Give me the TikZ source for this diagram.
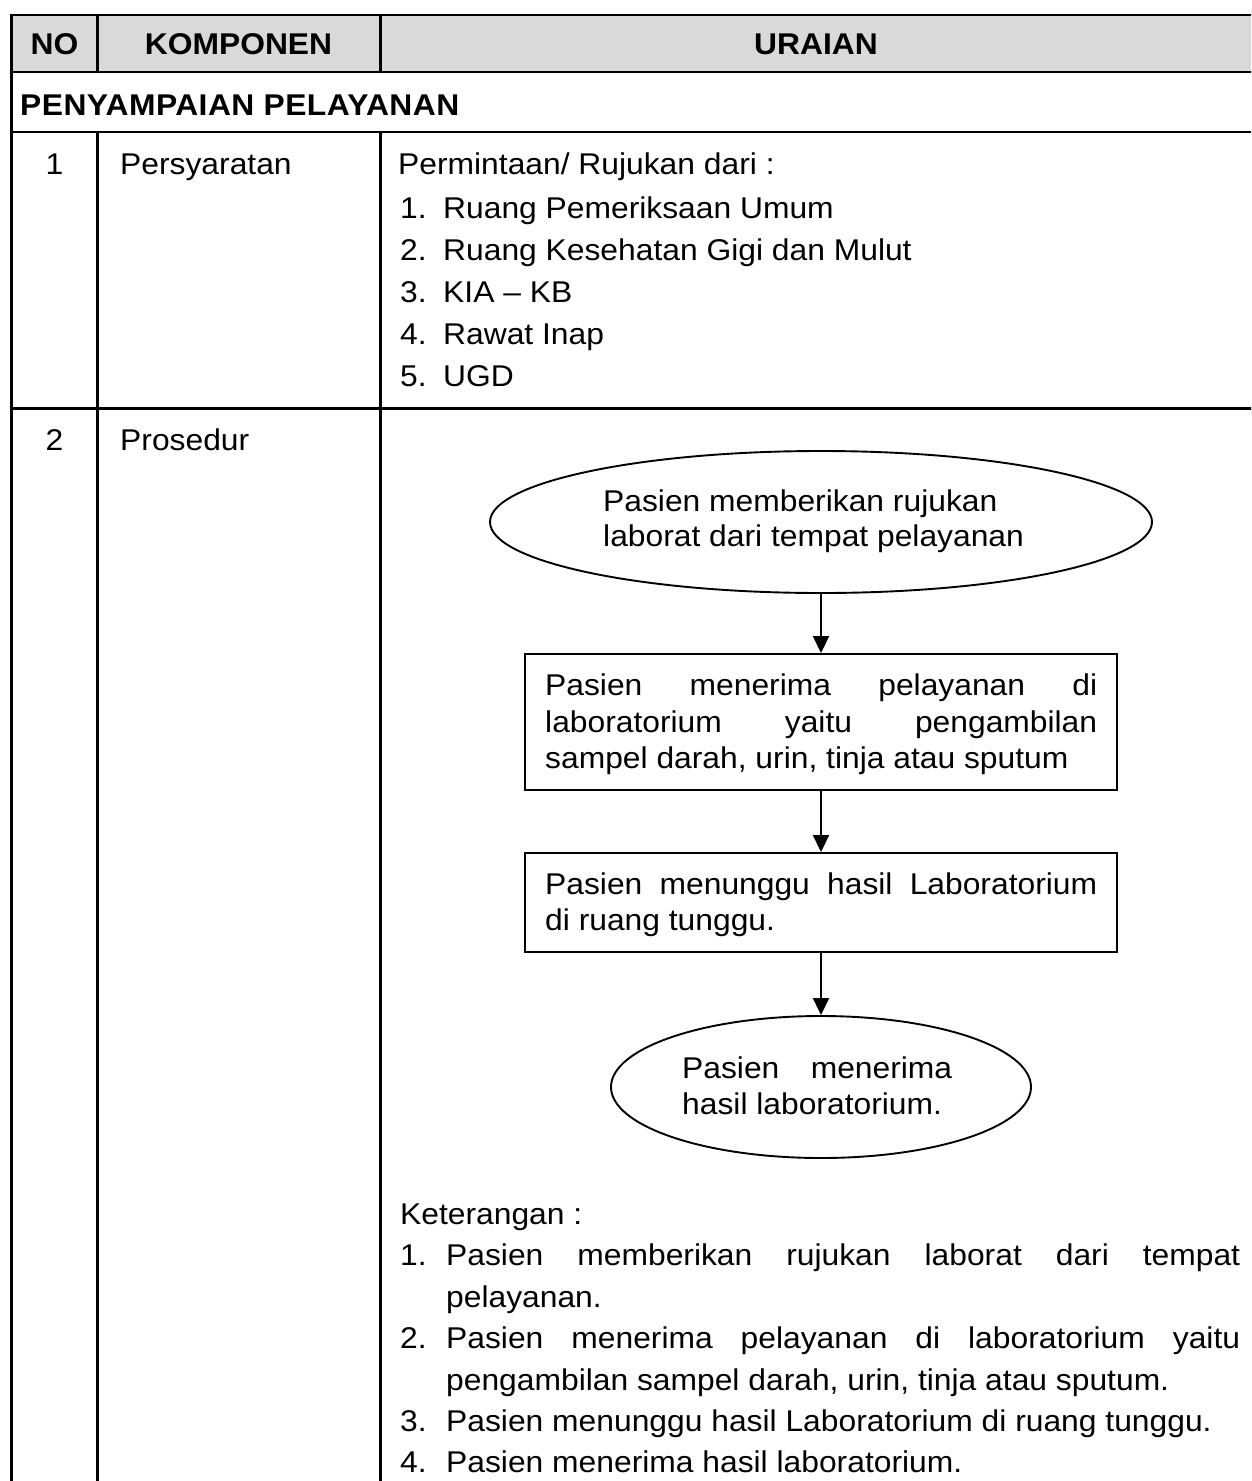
\documentclass[tikz,border=0pt]{standalone}
\usepackage{fontspec}
\setmainfont[FakeStretch=1.06]{Liberation Sans}
\usetikzlibrary{shapes.geometric,arrows.meta}
\definecolor{headgray}{HTML}{D9D9D9}
\begin{document}
\begin{tikzpicture}[x=1pt,y=-1pt,
  grid/.style={line width=2.4pt},
  flow/.style={draw, line width=1.9pt, inner sep=0pt},
  txt/.style={anchor=base west, inner sep=0pt, font=\fontsize{30}{37}\selectfont},
  ctxt/.style={anchor=base, inner sep=0pt, font=\fontsize{30}{37}\selectfont},
  head/.style={inner sep=0pt, font=\fontsize{30}{37}\selectfont\bfseries},
  arr/.style={line width=1.9pt, -{Triangle[length=17pt,width=16pt]}}]

\useasboundingbox (0,0) rectangle (1251,1481);
\clip (0,0) rectangle (1251,1481);

% table frame
\fill[headgray] (11.5,15) rectangle (1262,72);
\draw[grid] (11.5,15) -- (1262,15);
\draw[grid] (11.5,72) -- (1262,72);
\draw[grid] (11.5,132) -- (1262,132);
\draw[grid] (11.5,408.5) -- (1262,408.5);
\draw[grid] (11.5,13.8) -- (11.5,1495);
\draw[grid] (97.3,15) -- (97.3,72);
\draw[grid] (380.5,15) -- (380.5,72);
\draw[grid] (97.3,132) -- (97.3,1495);
\draw[grid] (380.5,132) -- (380.5,1495);

% header and section titles
\node[head, anchor=base] (hno) at (54.5,54) {NO};
\node[head, anchor=base] (hkomp) at (238.5,54) {KOMPONEN};
\node[head, anchor=base] (hur) at (816,54) {URAIAN};
\node[head, anchor=base west] (sec) at (20,115) {\addfontfeatures{LetterSpace=1.5}PENYAMPAIAN PELAYANAN};

% row 1
\node[ctxt] (no1) at (54.5,174) {1};
\node[txt] (kom1) at (120,174) {Persyaratan};
\node[txt] (ur1) at (398,174) {Permintaan/ Rujukan dari :};
\node[txt] (l1n) at (400,218) {1.};
\node[txt] (l1t) at (443,218) {Ruang Pemeriksaan Umum};
\node[txt] (l2n) at (400,260) {2.};
\node[txt] (l2t) at (443,260) {Ruang Kesehatan Gigi dan Mulut};
\node[txt] (l3n) at (400,302) {3.};
\node[txt] (l3t) at (443,302) {KIA \textendash{} KB};
\node[txt] (l4n) at (400,344) {4.};
\node[txt] (l4t) at (443,344) {Rawat Inap};
\node[txt] (l5n) at (400,386) {5.};
\node[txt] (l5t) at (443,386) {UGD};

% row 2
\node[ctxt] (no2) at (54.5,450) {2};
\node[txt] (kom2) at (120,450) {Prosedur};

% flowchart shapes
\node[flow, ellipse, minimum width=662pt, minimum height=142pt] (e1) at (821,522) {};
\node[flow, rectangle, minimum width=592pt, minimum height=136pt] (b2) at (821,722) {};
\node[flow, rectangle, minimum width=592pt, minimum height=99pt] (b3) at (821,902.5) {};
\node[flow, ellipse, minimum width=420pt, minimum height=142pt] (e2) at (821,1087) {};

\draw[arr] (e1.south) -- (b2.north);
\draw[arr] (b2.south) -- (b3.north);
\draw[arr] (b3.south) -- (e2.north);

% flowchart texts
\node[txt] (e1a) at (603,511) {Pasien memberikan rujukan};
\node[txt] (e1b) at (603,546) {laborat dari tempat pelayanan};
\node[txt] (b2a) at (545,695) {\makebox[552pt][s]{Pasien menerima pelayanan di}};
\node[txt] (b2b) at (545,732) {\makebox[552pt][s]{laboratorium yaitu pengambilan}};
\node[txt] (b2c) at (545,768) {sampel darah, urin, tinja atau sputum};
\node[txt] (b3a) at (545,894) {\makebox[552pt][s]{Pasien menunggu hasil Laboratorium}};
\node[txt] (b3b) at (545,930) {di ruang tunggu.};
\node[txt] (e2a) at (682,1078) {\makebox[270pt][s]{Pasien menerima}};
\node[txt] (e2b) at (682,1114) {hasil laboratorium.};

% legend
\node[txt] (kt) at (400,1224) {Keterangan :};
\node[txt] (k1n) at (400,1265.5) {1.};
\node[txt] (k1a) at (446,1265.5) {\makebox[794pt][s]{Pasien memberikan rujukan laborat dari tempat}};
\node[txt] (k1b) at (446,1307) {pelayanan.};
\node[txt] (k2n) at (400,1348.5) {2.};
\node[txt] (k2a) at (446,1348.5) {\makebox[794pt][s]{Pasien menerima pelayanan di laboratorium yaitu}};
\node[txt] (k2b) at (446,1390) {pengambilan sampel darah, urin, tinja atau sputum.};
\node[txt] (k3n) at (400,1431.5) {3.};
\node[txt] (k3a) at (446,1431.5) {Pasien menunggu hasil Laboratorium di ruang tunggu.};
\node[txt] (k4n) at (400,1472.5) {4.};
\node[txt] (k4a) at (446,1472.5) {Pasien menerima hasil laboratorium.};
\end{tikzpicture}
\end{document}
